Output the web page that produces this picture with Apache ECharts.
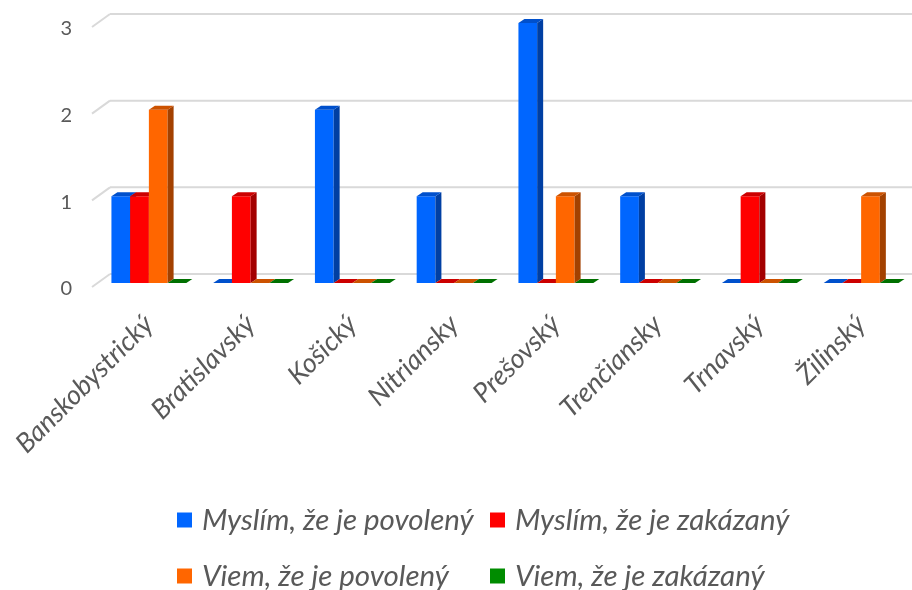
<!DOCTYPE html>
<html>
<head>
<meta charset="utf-8">
<script src="https://cdn.jsdelivr.net/npm/echarts@6/dist/echarts.min.js"></script>
<style>
  html, body { margin: 0; padding: 0; background: #fff; }
  #chart { width: 912px; height: 590px; }
</style>
</head>
<body>
<div id="chart"></div>
<script>
// data
const categories = ['Banskobystrický', 'Bratislavský', 'Košický', 'Nitriansky', 'Prešovský', 'Trenčiansky', 'Trnavský', 'Žilinský'];
const myslimPovoleny = [1, 0, 2, 1, 3, 1, 0, 0];
const myslimZakazany = [1, 1, 0, 0, 0, 0, 1, 0];
const viemPovoleny = [2, 0, 0, 0, 1, 0, 0, 1];
const viemZakazany = [0, 0, 0, 0, 0, 0, 0, 0];
const yTicks = [0, 1, 2, 3];

const FONT = 'Lato';
const TEXT = '#595959';
const GRIDLINE = '#d9d9d9';
// depth of a bar (px) and of the back wall
const DX = 6, DY = -4;
const WALL_DX = 12, WALL_DY = -9;

const chart = echarts.init(document.getElementById('chart'));

// one 3d-ish column: front, side and top face
function barRender(idx, c) {
  return function (params, api) {
    const cat = api.value(0);
    const val = api.value(1);
    const base = api.coord([cat, 0]);
    const top = api.coord([cat, val]);
    const bw = api.size([1, 0])[0] * 0.184;
    const x0 = base[0] - 2 * bw + idx * bw;
    const x1 = x0 + bw;
    const yb = base[1], yt = top[1];
    const children = [];
    if (val > 0) {
      children.push({ type: 'polygon', shape: { points: [[x0, yt], [x1, yt], [x1, yb], [x0, yb]] }, style: { fill: c.front } });
      children.push({ type: 'polygon', shape: { points: [[x1, yt], [x1 + DX, yt + DY], [x1 + DX, yb + DY], [x1, yb]] }, style: { fill: c.side } });
    }
    children.push({ type: 'polygon', shape: { points: [[x0, yt], [x1, yt], [x1 + DX, yt + DY], [x0 + DX, yt + DY]] }, style: { fill: c.top } });
    return { type: 'group', children: children };
  };
}

function barSeries(name, values, idx, c) {
  return {
    name: name,
    type: 'custom',
    z: 3 + idx,
    itemStyle: { color: c.front },
    renderItem: barRender(idx, c),
    data: values.map((v, i) => [i, v])
  };
}

function legendItem(name, left, top) {
  return {
    data: [name],
    left: left,
    top: top,
    padding: 0,
    icon: 'rect',
    itemWidth: 15,
    itemHeight: 15,
    selectedMode: false,
    textStyle: { fontFamily: FONT, fontStyle: 'italic', fontSize: 29.5, lineHeight: 30, color: TEXT, padding: [0, 0, 0, 5] }
  };
}

const option = {
  backgroundColor: '#fff',
  animation: false,
  grid: { left: 98, right: 0, top: 23, bottom: 307 },
  legend: [
    legendItem('Myslím, že je povolený', 177, 505),
    legendItem('Myslím, že je zakázaný', 490, 505),
    legendItem('Viem, že je povolený', 177, 561),
    legendItem('Viem, že je zakázaný', 490, 561)
  ],
  xAxis: {
    type: 'category',
    data: categories,
    axisLine: { show: false },
    axisTick: { show: false },
    axisLabel: {
      interval: 0,
      rotate: 45,
      margin: 37,
      fontFamily: FONT,
      fontStyle: 'italic',
      fontSize: 27,
      color: TEXT
    }
  },
  yAxis: {
    type: 'value',
    min: 0,
    max: 3,
    interval: 1,
    axisLine: { show: false },
    axisTick: { show: false },
    splitLine: { show: false },
    axisLabel: { margin: 26, fontFamily: FONT, fontSize: 20, color: TEXT, verticalAlign: 'top', lineHeight: 12 }
  },
  series: [
    {
      name: 'grid',
      type: 'custom',
      z: 1,
      silent: true,
      data: yTicks.map(v => [0, v]),
      renderItem: function (params, api) {
        const y = api.coord([0, api.value(1)])[1];
        const left = params.coordSys.x;
        const right = params.coordSys.x + params.coordSys.width;
        const st = { stroke: GRIDLINE, lineWidth: 2 };
        return {
          type: 'group',
          children: [
            { type: 'line', shape: { x1: left - 6, y1: y + 4, x2: left + WALL_DX, y2: y + WALL_DY }, style: st },
            { type: 'line', shape: { x1: left + WALL_DX, y1: y + WALL_DY, x2: right, y2: y + WALL_DY }, style: st }
          ]
        };
      }
    },
    barSeries('Myslím, že je povolený', myslimPovoleny, 0, { front: '#0066ff', side: '#003fa3', top: '#0050cc' }),
    barSeries('Myslím, že je zakázaný', myslimZakazany, 1, { front: '#ff0000', side: '#a30000', top: '#cc0000' }),
    barSeries('Viem, že je povolený', viemPovoleny, 2, { front: '#ff6600', side: '#a34100', top: '#cc5200' }),
    barSeries('Viem, že je zakázaný', viemZakazany, 3, { front: '#008c00', side: '#005900', top: '#007000' })
  ]
};

chart.setOption(option);
</script>
</body>
</html>
